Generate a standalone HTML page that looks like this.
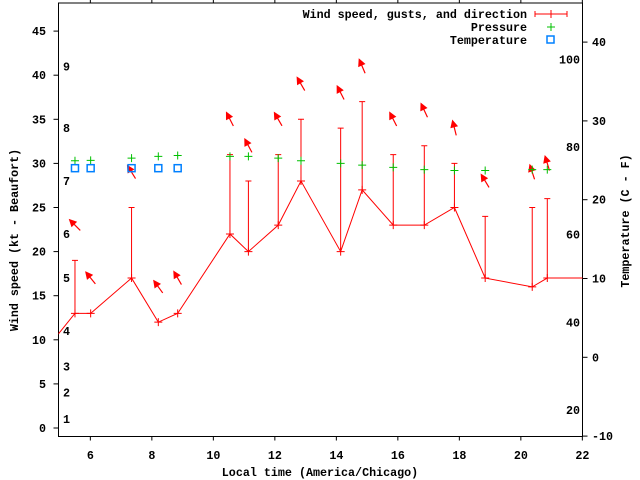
<!DOCTYPE html>
<html><head><meta charset="utf-8">
<style>
html,body{margin:0;padding:0;background:#fff;}
svg{display:block;font-family:"Liberation Mono",monospace;font-weight:bold;font-size:11.7px;}
</style></head>
<body>
<svg id="chart" width="640" height="480" viewBox="0 0 640 480" xmlns="http://www.w3.org/2000/svg">
<rect x="0" y="0" width="640" height="480" fill="#fff"/>
<g id="axes"></g>
<g id="series"></g>
<g id="legend">
  <text x="527" y="18" text-anchor="end">Wind speed, gusts, and direction</text>
  <line x1="535" y1="14" x2="567" y2="14" stroke="#f00"/>
  <line x1="535" y1="11" x2="535" y2="17" stroke="#f00"/>
  <line x1="567" y1="11" x2="567" y2="17" stroke="#f00"/>
  <line x1="551" y1="10" x2="551" y2="18" stroke="#f00"/>
  <text x="527" y="31" text-anchor="end">Pressure</text>
  <path d="M547 27h8M551 23v8" stroke="#00c000" fill="none"/>
  <text x="527" y="44" text-anchor="end">Temperature</text>
  <rect x="547" y="36" width="7" height="7" stroke="#0080ff" stroke-width="1.5" fill="none"/>
</g>
<text x="320" y="476" text-anchor="middle">Local time (America/Chicago)</text>
<text transform="translate(18,240) rotate(-90)" text-anchor="middle">Wind speed (kt - Beaufort)</text>
<text transform="translate(629,221) rotate(-90)" text-anchor="middle">Temperature (C - F)</text>
</svg>
<script>
const times = [5.5, 6.01, 7.34, 8.21, 8.84, 10.54, 11.14, 12.11, 12.85, 14.14, 14.84, 15.85, 16.86, 17.84, 18.84, 20.37, 20.86];
const speeds = [13, 13, 17, 12, 13, 22, 20, 23, 28, 20, 27, 23, 23, 25, 17, 16, 17];
const gusts = [19, null, 25, null, null, 31, 28, 31, 35, 34, 37, 31, 32, 30, 24, 25, 26];
const arrowKt = [23, 17, 29, 16, 17, 35, 32, 35, 39, 38, 41, 35, 36, 34, 28, 29, 30];
const dirs = [135, 141, 148, 144, 150, 153, 152, 150, 150, 153, 157, 153, 155, 166, 149, 162, 163];
const pressures = [30.3, 30.35, 30.6, 30.8, 30.9, 30.8, 30.8, 30.6, 30.3, 30.0, 29.8, 29.55, 29.3, 29.2, 29.2, 29.3, 29.3];
const tempTimes = [5.5, 6.01, 7.34, 8.21, 8.84];
const temps = [24, 24, 24, 24, 24];
const lineStart = [4.9, 10.4];
const lineEnd = [23, 17];
const xTicks = [6, 8, 10, 12, 14, 16, 18, 20, 22];
const yTicks = [0, 5, 10, 15, 20, 25, 30, 35, 40, 45];
const cTicks = [-10, 0, 10, 20, 30, 40];
const fTicks = [20, 40, 60, 80, 100];
const beaufort = [[1, 419], [2, 393], [3, 366], [4, 331], [5, 278], [6, 234], [7, 181], [8, 128], [9, 66]];
const beaufortLabels = [1, 2, 3, 4, 5, 6, 7, 8, 9];
const beaufortKt = [1, 4, 7, 11, 17, 22, 28, 34, 41];

const L = 58.5, R = 582.5, T = 3, B = 436.5;
const X = t => 59.6 + (t - 5) * 30.75;
const Y = k => 428 - k * 8.82;
const YC = c => 357.3 - c * 7.88;
const YF = f => YC((f - 32) * 5 / 9);
const NS = 'http://www.w3.org/2000/svg';
function mk(tag, parent, attrs) {
  const e = document.createElementNS(NS, tag);
  for (const k in attrs) e.setAttribute(k, attrs[k]);
  parent.appendChild(e);
  return e;
}
const ax = document.getElementById('axes');
const se = document.getElementById('series');

const frame = mk('rect', ax, {x: L, y: T, width: R - L, height: B - T, fill: 'none', stroke: '#000'});



xTicks.forEach(t => {
  const x = X(t);
  const tk = mk('path', ax, {d: `M${x} ${B}v4M${x} ${T}v-4`, stroke: '#000'});
  
  
  const lb = mk('text', ax, {x: x, y: 459, 'text-anchor': 'middle'});
  
  
  lb.textContent = t;
});
yTicks.forEach(v => {
  const y = Y(v);
  const tk = mk('path', ax, {d: `M${L} ${y}h-5`, stroke: '#000'});
  
  
  const lb = mk('text', ax, {x: 46, y: y + 4, 'text-anchor': 'end'});
  
  
  lb.textContent = v;
});
cTicks.forEach(v => {
  const y = YC(v);
  const tk = mk('path', ax, {d: `M${R} ${y}h5`, stroke: '#000'});
  
  
  const lb = mk('text', ax, {x: 592, y: y + 4, 'text-anchor': 'start'});
  
  
  lb.textContent = v;
});
fTicks.forEach(v => {
  const lb = mk('text', ax, {x: 580, y: YF(v) + 4, 'text-anchor': 'end'});
  
  
  lb.textContent = v;
});
beaufortLabels.forEach((b, i) => {
  const lb = mk('text', ax, {x: 63, y: Y(beaufortKt[i]) + 4, 'text-anchor': 'start'});
  
  
  lb.textContent = b;
});

const clip = mk('clipPath', se, {id: 'pc'});
mk('rect', clip, {x: L, y: T, width: R - L, height: B - T});
const g = mk('g', se, {'clip-path': 'url(#pc)'});

// wind line
const pts = [[lineStart[0], lineStart[1]]].concat(times.map((t, i) => [t, speeds[i]])).concat([[lineEnd[0], lineEnd[1]]]);
const wl = mk('polyline', g, {points: pts.map(p => X(p[0]) + ',' + Y(p[1])).join(' '), fill: 'none', stroke: '#f00'});



times.forEach((t, i) => {
  const x = X(t), y = Y(speeds[i]);
  const m = mk('path', g, {d: `M${x - 4} ${y}h8M${x} ${y - 4}v8`, stroke: '#f00'});
  
  
  if (gusts[i] != null) {
    const gy = Y(gusts[i]);
    const gb = mk('path', g, {d: `M${x} ${y}V${gy}M${x - 3} ${gy}h6`, stroke: '#f00'});
    
    
  }
  // direction arrow
  const h = (dirs[i] + 180) * Math.PI / 180;
  const dx = Math.sin(h), dy = -Math.cos(h);
  const cy = Y(arrowKt[i]), cx = x;
  const len = 15;
  const tx = cx - dx * len / 2, ty = cy - dy * len / 2;
  const hx = cx + dx * len / 2, hy = cy + dy * len / 2;
  const px = -dy, py = dx;
  const bx = hx - dx * 6, by = hy - dy * 6;
  const ar = mk('path', g, {d: `M${tx} ${ty}L${hx} ${hy}M${hx} ${hy}L${bx + px * 3} ${by + py * 3}L${bx - px * 3} ${by - py * 3}Z`, stroke: '#f00', fill: '#f00', 'stroke-width': 1.2});
  
  
  // pressure
  const py2 = Y(pressures[i]);
  const pm = mk('path', g, {d: `M${x - 4} ${py2}h8M${x} ${py2 - 4}v8`, stroke: '#00c000'});
  
  
});

tempTimes.forEach((t, i) => {
  const x = X(t), y = YC(temps[i]);
  const s = mk('rect', g, {x: x - 3.5, y: y - 3.5, width: 7, height: 7, fill: 'none', stroke: '#0080ff', 'stroke-width': 1.5});
  
  
});
</script>
</body></html>
